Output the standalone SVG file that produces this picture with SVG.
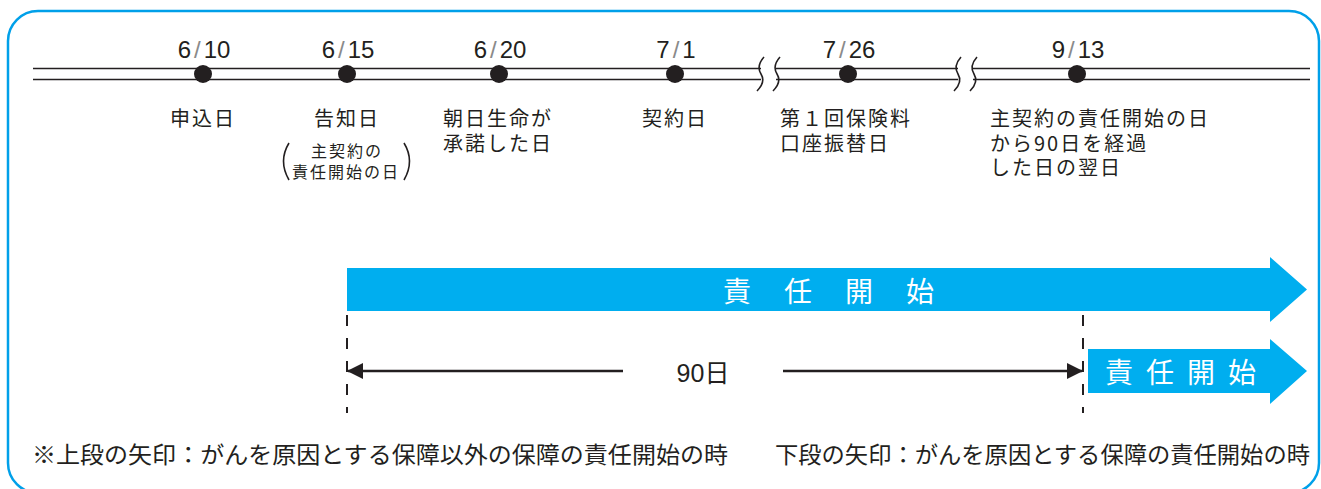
<svg xmlns="http://www.w3.org/2000/svg" width="1321" height="489" viewBox="0 0 1321 489">
<defs>
<style>
.date{font-family:"Liberation Sans",sans-serif;font-size:24px;fill:#231f20;text-anchor:middle;}
.sl{fill:#8a8a8a;}
.jp{font-family:"Noto Sans CJK JP",sans-serif;font-size:20px;fill:#231f20;letter-spacing:2px;}
.jps{font-family:"Noto Sans CJK JP",sans-serif;font-size:16px;fill:#231f20;letter-spacing:2px;text-anchor:middle;}
.wt{font-family:"Noto Sans CJK JP",sans-serif;font-size:28px;fill:#ffffff;}
.ft{font-family:"Noto Sans CJK JP",sans-serif;font-size:23px;fill:#231f20;}
.tl{stroke:#231f20;stroke-width:1.6;fill:none;}
.dash{stroke:#231f20;stroke-width:2;stroke-dasharray:11 12;fill:none;}
.dot{fill:#231f20;}
.arrow{fill:#00aeef;}
</style>
<marker id="ah" viewBox="0 0 16 16" refX="15" refY="8" markerWidth="16" markerHeight="16" markerUnits="userSpaceOnUse" orient="auto-start-reverse">
<path d="M0,0 L16,8 L0,16 Z" fill="#231f20"/>
</marker>
</defs>
<rect x="8" y="11" width="1311" height="482" rx="30" ry="30" fill="none" stroke="#00a0e9" stroke-width="2.5"/>
<g id="timeline">
<path class="tl" d="M33,68.5 H761 M33,79.5 H761 M776,68.5 H958 M776,79.5 H958 M973,68.5 H1310 M973,79.5 H1310"/>
<path class="tl" d="M764,57 Q756,66 761,74 T757,91 M780,57 Q772,66 777,74 T773,91"/>
<path class="tl" d="M961,57 Q953,66 958,74 T954,91 M977,57 Q969,66 974,74 T970,91"/>
</g>
<g id="n1"><circle class="dot" cx="203" cy="74" r="9"/><text class="date" x="204" y="58">6<tspan class="sl" dx="3">/</tspan><tspan dx="3">10</tspan></text><text class="jp" x="203" y="126" text-anchor="middle">申込日</text></g>
<g id="n2"><circle class="dot" cx="347" cy="74" r="9"/><text class="date" x="348" y="58">6<tspan class="sl" dx="3">/</tspan><tspan dx="3">15</tspan></text><text class="jp" x="347" y="126" text-anchor="middle">告知日</text>
<text class="jps" x="347" y="157">主契約の</text><text class="jps" x="346" y="178">責任開始の日</text>
<path class="tl" d="M289,143 Q278,161 289,180 M404,143 Q415,161 404,180"/></g>
<g id="n3"><circle class="dot" cx="499" cy="74" r="9"/><text class="date" x="500" y="58">6<tspan class="sl" dx="3">/</tspan><tspan dx="3">20</tspan></text><text class="jp" x="443" y="126">朝日生命が</text><text class="jp" x="443" y="151">承諾した日</text></g>
<g id="n4"><circle class="dot" cx="675" cy="74" r="9"/><text class="date" x="676" y="58">7<tspan class="sl" dx="3">/</tspan><tspan dx="3">1</tspan></text><text class="jp" x="675" y="126" text-anchor="middle">契約日</text></g>
<g id="n5"><circle class="dot" cx="848" cy="74" r="9"/><text class="date" x="849" y="58">7<tspan class="sl" dx="3">/</tspan><tspan dx="3">26</tspan></text><text class="jp" x="780" y="126">第１回保険料</text><text class="jp" x="780" y="151">口座振替日</text></g>
<g id="n6"><circle class="dot" cx="1077" cy="74" r="9"/><text class="date" x="1078" y="58">9<tspan class="sl" dx="3">/</tspan><tspan dx="3">13</tspan></text><text class="jp" x="990" y="126">主契約の責任開始の日</text><text class="jp" x="990" y="151">から90日を経過</text><text class="jp" x="990" y="175">した日の翌日</text></g>
<g id="arrow-upper"><path class="arrow" d="M347,268 H1270 V257 L1307,289.5 L1270,322 V311 H347 Z"/><text class="wt" x="723" y="302" letter-spacing="33">責任開始</text></g>
<g id="arrow-lower"><path class="arrow" d="M1088,349 H1270 V339 L1307,371 L1270,404 V393 H1088 Z"/><text class="wt" x="1105" y="383" letter-spacing="13">責任開始</text></g>
<g id="connectors">
<path class="dash" d="M347,315 V413"/>
<path class="dash" d="M1083,315 V413"/>
<path d="M623,371 H348" stroke="#231f20" stroke-width="2.5" fill="none" marker-end="url(#ah)"/>
<path d="M783,371 H1082" stroke="#231f20" stroke-width="2.5" fill="none" marker-end="url(#ah)"/>
</g>
<g id="label-90"><text x="703" y="382" text-anchor="middle" style="font-family:'Liberation Sans','Noto Sans CJK JP',sans-serif;font-size:25px;fill:#231f20">90日</text></g>
<g id="notes">
<text class="ft" x="32" y="463" textLength="696" lengthAdjust="spacingAndGlyphs">※上段の矢印：がんを原因とする保障以外の保障の責任開始の時</text>
<text class="ft" x="775" y="463" textLength="535" lengthAdjust="spacingAndGlyphs">下段の矢印：がんを原因とする保障の責任開始の時</text>
</g>
</svg>
